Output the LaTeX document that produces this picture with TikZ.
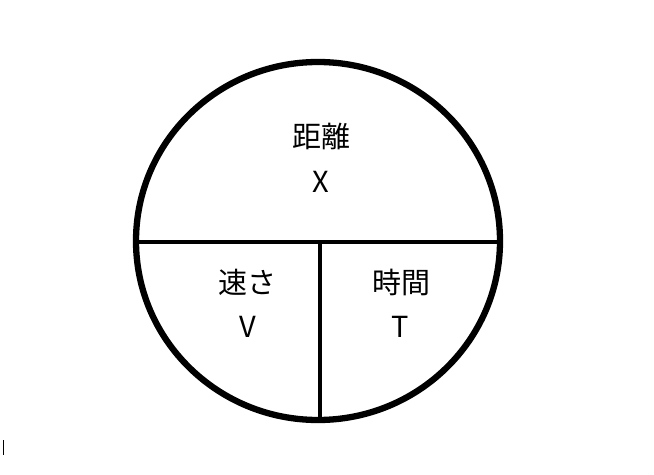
\documentclass[tikz,border=0pt]{standalone}
\usepackage{fontspec}
\setmainfont{Noto Sans CJK JP}
\tikzset{
  rim/.style={line width=6.3bp},
  divider/.style={line width=3.2bp},
  lbl/.style={font=\fontsize{29bp}{34bp}\selectfont, inner sep=0pt, anchor=center}
}
\begin{document}
\begin{tikzpicture}[x=1bp,y=-1bp]
\useasboundingbox (0,0) rectangle (654,475);
\coordinate (L) at (136,242);
\coordinate (R) at (500,242);
\coordinate (M) at (320,242);
\coordinate (B) at (320,420);
\draw[rim] (318,241) ellipse [x radius=182, y radius=179];
\draw[divider] (L) -- (R);
\draw[divider] (M) -- (B);
\node[lbl] (dist) at (321,136) {距離};
\node[lbl] (x) at (321,182) {X};
\node[lbl] (speed) at (247,282) {速さ};
\node[lbl] (v) at (248,327) {V};
\node[lbl] (time) at (401,282) {時間};
\node[lbl] (t) at (400,327) {T};
\coordinate (c1) at (3.5,440);
\coordinate (c2) at (3.5,454.5);
\draw[line width=1bp] (c1) -- (c2);
\end{tikzpicture}
\end{document}
